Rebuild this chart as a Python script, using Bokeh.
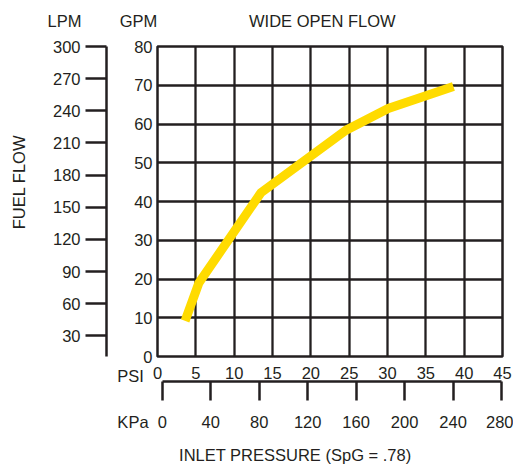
import math
from bokeh.plotting import figure
from bokeh.models import LinearAxis, Range1d, FixedTicker, ColumnDataSource
from bokeh.core.properties import value
from bokeh.embed import file_html
from bokeh.resources import INLINE

# ---- data ----
psi = [3.6, 5.4, 13.5, 24.6, 30.1, 38.6]          # inlet pressure, PSI
gpm = [9.2, 19.0, 42.3, 58.4, 64.0, 69.7]         # fuel flow, GPM

psi_ticks = [0, 5, 10, 15, 20, 25, 30, 35, 40, 45]
gpm_ticks = [0, 10, 20, 30, 40, 50, 60, 70, 80]
lpm_ticks = [30, 60, 90, 120, 150, 180, 210, 240, 270, 300]
kpa_ticks = [0, 40, 80, 120, 160, 200, 240, 280]

unit_names = ["LPM", "GPM", "PSI", "KPa"]
titles = ["WIDE OPEN FLOW", "INLET PRESSURE (SpG = .78)"]
y_title = ["FUEL FLOW"]

FONT = "Liberation Sans"
INK = "#231f20"
YELLOW = "#FFDB00"
FS = "16.5px"

p = figure(width=513, height=464, x_range=Range1d(0, 45), y_range=Range1d(0, 80),
           output_backend="svg", toolbar_location=None,
           min_border_left=157, min_border_right=11, min_border_top=46, min_border_bottom=108)
p.extra_y_ranges = {"lpm": Range1d(10.7, 300)}
p.extra_x_ranges = {"kpa": Range1d(-3.9, 280.8)}

p.background_fill_color = "white"
p.border_fill_color = "white"
p.outline_line_color = INK
p.outline_line_width = 2.5
p.outline_line_alpha = 1.0

# grid
p.xgrid.ticker = FixedTicker(ticks=psi_ticks)
p.ygrid.ticker = FixedTicker(ticks=gpm_ticks)
for g in (p.xgrid[0], p.ygrid[0]):
    g.grid_line_color = INK
    g.grid_line_width = 2.3
    g.grid_line_alpha = 1.0

def style_labels(ax):
    ax.major_label_text_font = FONT
    ax.major_label_text_font_size = FS
    ax.major_label_text_color = INK

# PSI axis (default x axis)
xa = p.xaxis[0]
xa.ticker = FixedTicker(ticks=psi_ticks)
xa.axis_line_color = None
xa.major_tick_line_color = None
xa.minor_tick_line_color = None
xa.major_tick_out = 0
xa.major_tick_in = 0
xa.major_label_standoff = 10
style_labels(xa)

# GPM axis (default y axis)
ya = p.yaxis[0]
ya.ticker = FixedTicker(ticks=gpm_ticks)
ya.axis_line_color = None
ya.major_tick_line_color = None
ya.minor_tick_line_color = None
ya.major_tick_out = 0
ya.major_tick_in = 0
ya.major_label_standoff = 5
style_labels(ya)

# blank spacer axis between the GPM labels and the LPM scale
spacer = LinearAxis(ticker=FixedTicker(ticks=[75]), major_tick_out=25, major_tick_in=0,
                    axis_line_color=None, major_tick_line_color="white",
                    major_tick_line_width=1, minor_tick_line_color=None,
                    major_label_text_color=None, major_label_text_font_size="0px",
                    major_label_standoff=0)
p.add_layout(spacer, "left")

lpm_axis = LinearAxis(y_range_name="lpm", ticker=FixedTicker(ticks=lpm_ticks),
                      major_tick_out=21, major_tick_in=0,
                      axis_line_color=INK, axis_line_width=2.5,
                      major_tick_line_color=INK, major_tick_line_width=2.5,
                      minor_tick_line_color=None, major_label_standoff=5)
style_labels(lpm_axis)
p.add_layout(lpm_axis, "left")

kpa_axis = LinearAxis(x_range_name="kpa", ticker=FixedTicker(ticks=kpa_ticks),
                      bounds=(kpa_ticks[0], kpa_ticks[-1]),
                      major_tick_out=19, major_tick_in=0,
                      axis_line_color=INK, axis_line_width=2.5,
                      major_tick_line_color=INK, major_tick_line_width=2.5,
                      minor_tick_line_color=None, major_label_standoff=15)
style_labels(kpa_axis)
p.add_layout(kpa_axis, "below")

# curve
p.line(psi, gpm, line_color=YELLOW, line_width=9, line_cap="butt", line_join="miter")

# texts outside the grid (overlay level, so they are not clipped to the frame)
def add_texts(xs, ys, texts, angle=0.0):
    src = ColumnDataSource(dict(x=xs, y=ys, t=texts))
    p.text(x="x", y="y", text="t", source=src, level="overlay", angle=angle,
           text_align="center", text_baseline="middle", text_font=value(FONT),
           text_font_size=value(FS), text_color=INK)

add_texts([-12.13, -2.48, -3.52, -3.2], [86.7, 86.7, -5.03, -16.9], unit_names)
add_texts([21.5, 17.97], [86.7, -25.3], titles)
add_texts([-18.09], [45.0], y_title, angle=math.pi / 2)

open("out.html", "w").write(file_html(p, INLINE))
